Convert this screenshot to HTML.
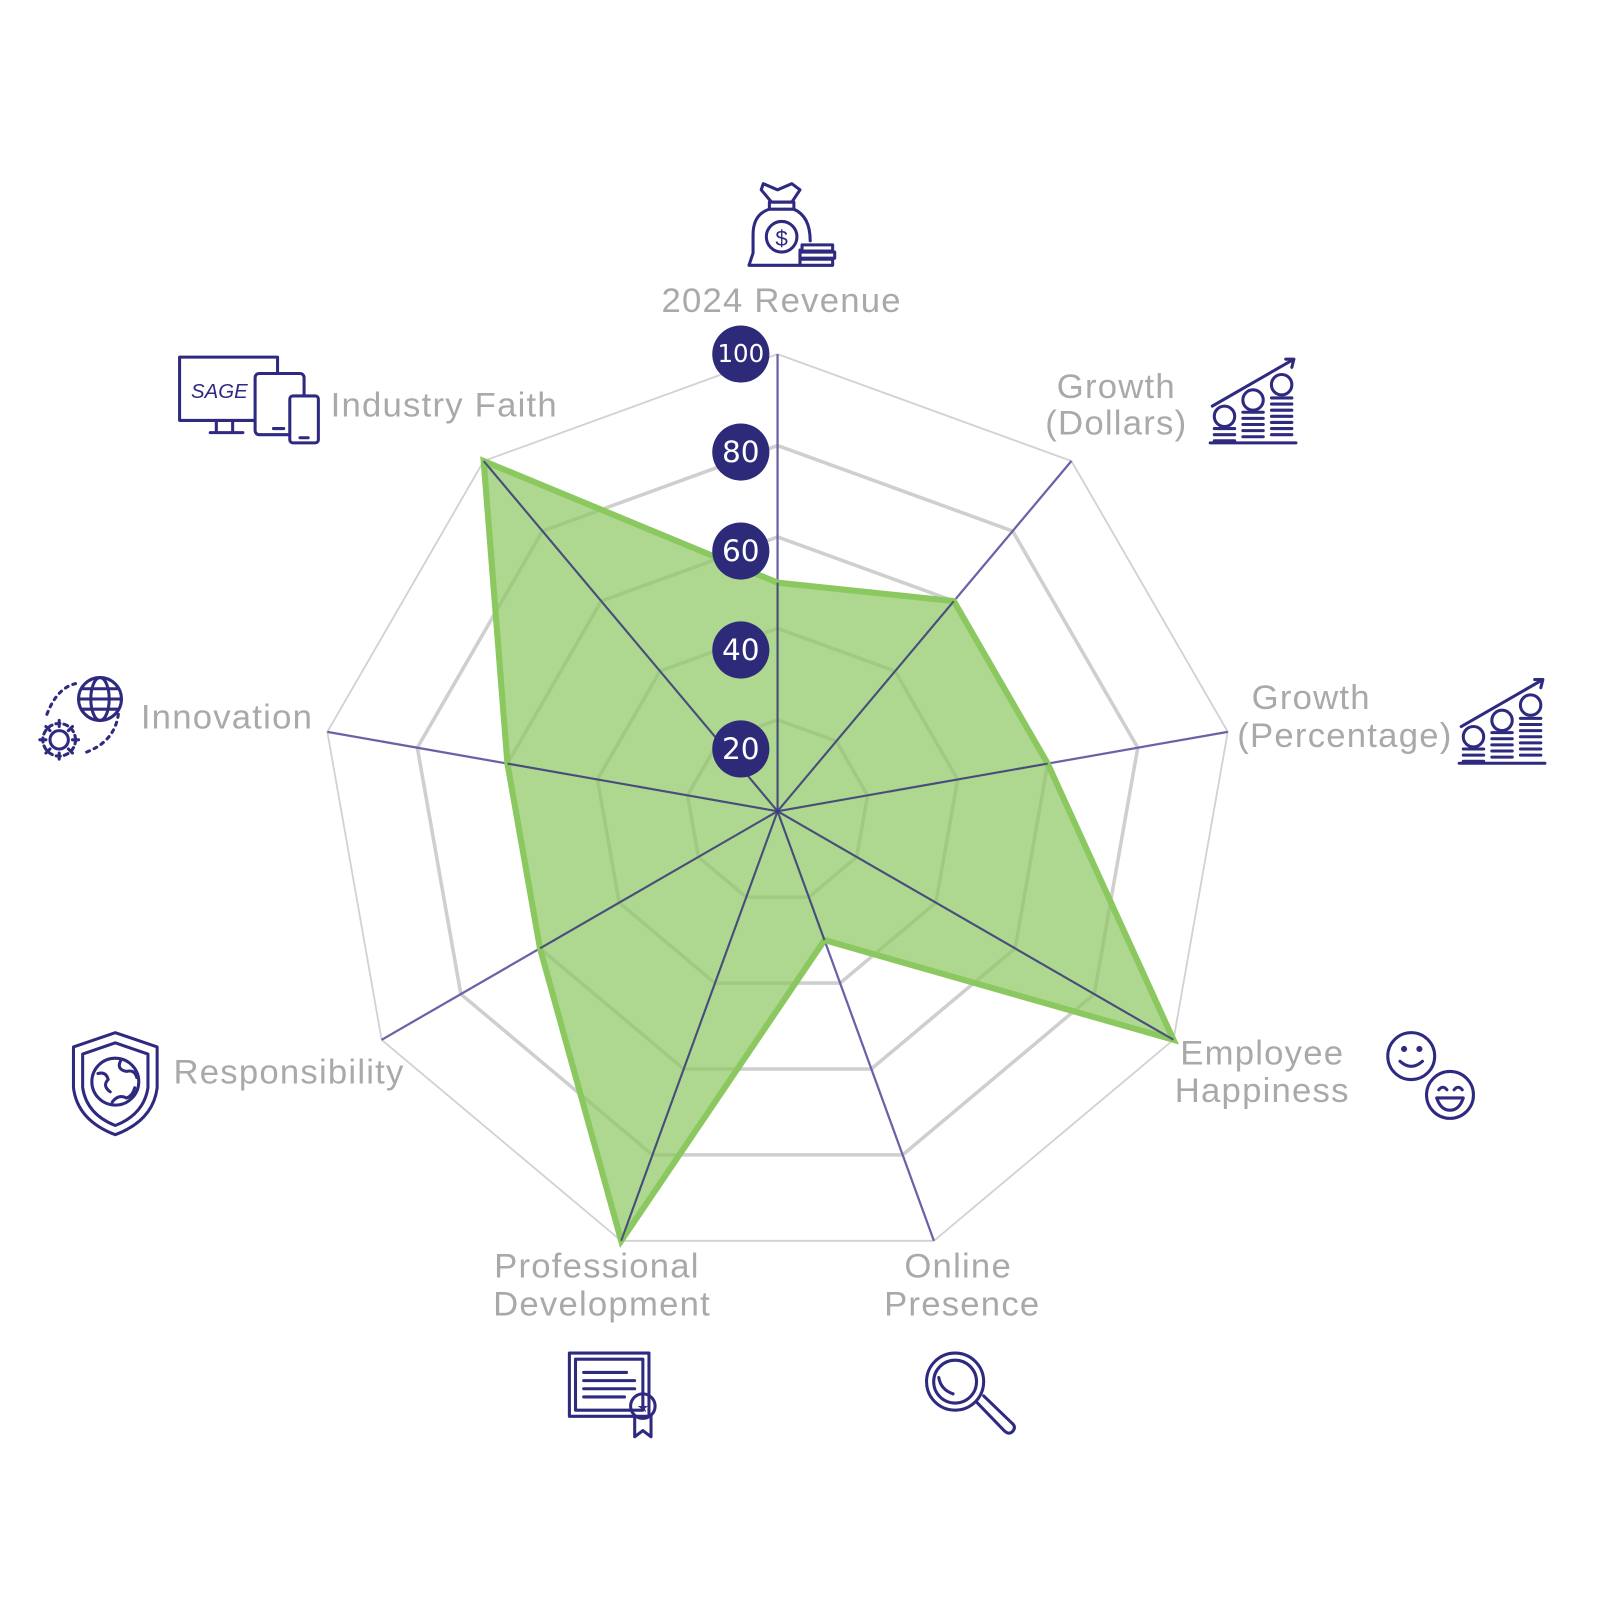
<!DOCTYPE html>
<html><head><meta charset="utf-8"><style>html,body{margin:0;padding:0;background:#fff}svg{display:block}</style></head>
<body>
<svg id="s" width="1600" height="1600" viewBox="0 0 1568 1568" xmlns="http://www.w3.org/2000/svg" font-family="Liberation Sans, sans-serif">
<g id="grid"></g>
<g fill="#a9a9a9" font-size="34" text-anchor="middle" letter-spacing="1.2">
<text x="766" y="306">2024 Revenue</text>
<text x="1094" y="390">Growth</text><text x="1094" y="426">(Dollars)</text>
<text x="1285" y="695">Growth</text><text x="1318" y="732">(Percentage)</text>
<text x="1237" y="1043">Employee</text><text x="1237" y="1080">Happiness</text>
<text x="939" y="1252">Online</text><text x="943" y="1289">Presence</text>
<text x="585" y="1252">Professional</text><text x="590" y="1289">Development</text>
<text x="170" y="1062" text-anchor="start">Responsibility</text>
<text x="138" y="714" text-anchor="start">Innovation</text>
<text x="324" y="408" text-anchor="start">Industry Faith</text>
</g>
<g fill="none" stroke="#2e2a80" stroke-width="3" stroke-linejoin="round" stroke-linecap="round">
<path d="M748 180 L762 186 L776 180 L784 186 L776 198 L756 198 L746 186 Z"/>
<rect x="754" y="198" width="24" height="7"/>
<path d="M754 205 Q738 210 738 230 L738 248 L734 260 L784 260 L784 245 M778 205 Q794 212 794 236"/>
<circle cx="766" cy="232" r="15"/>
<text x="766" y="241" font-size="22" fill="#2e2a80" stroke="none" text-anchor="middle">$</text>
<rect x="786" y="240" width="30" height="6"/><rect x="784" y="247" width="34" height="6"/><rect x="784" y="254" width="32" height="6"/>
<g id="gr"><path d="M1188 398 L1268 352 M1260 352 L1268 352 L1266 360"/>
<circle cx="1200" cy="408" r="10"/><circle cx="1228" cy="392" r="10"/><circle cx="1256" cy="377" r="10"/>
<path d="M1190 420h20M1190 426h20M1190 432h20M1218 404h20M1218 410h20M1218 416h20M1218 422h20M1218 428h20M1246 390h20M1246 396h20M1246 402h20M1246 408h20M1246 414h20M1246 420h20M1246 426h20M1186 434h84"/></g>
<use href="#gr" transform="translate(244 314)"/>
<circle cx="1383" cy="1035" r="23"/><circle cx="1376" cy="1028" r="1.5"/><circle cx="1391" cy="1028" r="1.5"/><path d="M1372 1040 Q1383 1050 1394 1040"/>
<circle cx="1421" cy="1073" r="23"/><path d="M1410 1068 q4 -5 8 0 M1425 1068 q4 -5 8 0 M1408 1076 h26 q-4 12 -13 12 q-9 0 -13 -12"/>
<circle cx="936" cy="1354" r="28"/><circle cx="936" cy="1354" r="21"/><path d="M920 1350 q2 12 14 16"/>
<path d="M957 1374 L984 1402 q5 5 9 0 q3 -4 -2 -8 L964 1368"/>
<rect x="558" y="1326" width="78" height="62"/><rect x="564" y="1332" width="66" height="50"/>
<path d="M572 1345h42M572 1353h50M572 1361h50M572 1369h40"/>
<circle cx="630" cy="1378" r="12"/><path d="M622 1388 v20 l8 -6 8 6 v-20"/>
<text x="630" y="1384" font-size="13" fill="#2e2a80" stroke="none" text-anchor="middle">★</text>
<path d="M113 1012 L154 1026 L154 1066 Q150 1098 113 1112 Q76 1098 72 1066 L72 1026 Z"/>
<path d="M113 1022 L145 1033 L145 1066 Q141 1092 113 1103 Q85 1092 81 1066 L81 1033 Z"/>
<circle cx="113" cy="1060" r="23"/><path d="M96 1052 q8 -2 10 6 q-6 6 2 12 M118 1040 q-4 8 6 10 q8 -2 10 6 M110 1080 q6 -8 14 -4 q6 -2 8 -10"/>
<circle cx="98" cy="685" r="21"/><ellipse cx="98" cy="685" rx="9" ry="21"/><path d="M77 685h42M80 675h36M80 695h36"/>
<circle cx="58" cy="725" r="9"/><path d="M58 706v6M58 738v6M39 725h6M71 725h6M45 712l4 4M67 734l4 4M45 738l4 -4M67 716l4 -4"/>
<circle cx="58" cy="725" r="16" stroke-dasharray="4 4"/>
<path d="M46 700 q10 -26 28 -30 M116 700 q-4 28 -34 38" stroke-dasharray="3 5"/>
<rect x="176" y="350" width="96" height="62"/><path d="M212 412v12M228 412v12M206 424h32"/>
<text x="215" y="390" font-size="20" fill="#2e2a80" stroke="none" text-anchor="middle" font-style="italic">SAGE</text>
<rect x="250" y="366" width="48" height="60" rx="4" fill="#fff"/><path d="M268 420h10"/>
<rect x="284" y="388" width="28" height="46" rx="3" fill="#fff"/><path d="M294 429h8"/>
</g>
<g id="nums"></g>
</svg>
<script>
var cx=762,cy=795,R=448,NS="http://www.w3.org/2000/svg";
var g=document.getElementById('grid');
function P(k,r){var a=k*40*Math.PI/180;return [cx+r*Math.sin(a),cy-r*Math.cos(a)];}
function el(t,at,p){var e=document.createElementNS(NS,t);for(var k in at)e.setAttribute(k,at[k]);(p||g).appendChild(e);return e;}
function poly(vals){var s=[];for(var k=0;k<9;k++){var p=P(k,vals[k]*R);s.push(p[0].toFixed(1)+','+p[1].toFixed(1));}return s.join(' ');}
[0.2,0.4,0.6,0.8].forEach(function(f){el('polygon',{points:poly([f,f,f,f,f,f,f,f,f]),fill:'none',stroke:'#cfcfcf','stroke-width':3.5});});
el('polygon',{points:poly([1,1,1,1,1,1,1,1,1]),fill:'none',stroke:'#d2d2d2','stroke-width':1.8});
for(var k=0;k<9;k++){var p=P(k,R);el('line',{x1:cx,y1:cy,x2:p[0],y2:p[1],stroke:'#6a62a6','stroke-width':2.2});}
var d=[0.5,0.6,0.6,1,0.3,1,0.6,0.6,1];
el('polygon',{points:poly(d),fill:'#8cc860','fill-opacity':0.7,stroke:'#8cc860','stroke-width':6,'stroke-linejoin':'miter'});
for(var k=0;k<9;k++){var p=P(k,R*d[k]);el('line',{x1:cx,y1:cy,x2:p[0],y2:p[1],stroke:'#3a3680','stroke-width':2,'stroke-opacity':0.8});}
var n=document.getElementById('nums');
[[100,347],[80,443],[60,540],[40,637],[20,734]].forEach(function(v){
el('circle',{cx:726,cy:v[1],r:28,fill:'#2e2a7a'},n);
var t=el('text',{x:726,y:v[1]+(v[0]==100?8:10),fill:'#fff','font-size':v[0]==100?24:29,'text-anchor':'middle','font-family':'DejaVu Sans, sans-serif'},n);t.textContent=v[0];});
</script>
</body></html>
